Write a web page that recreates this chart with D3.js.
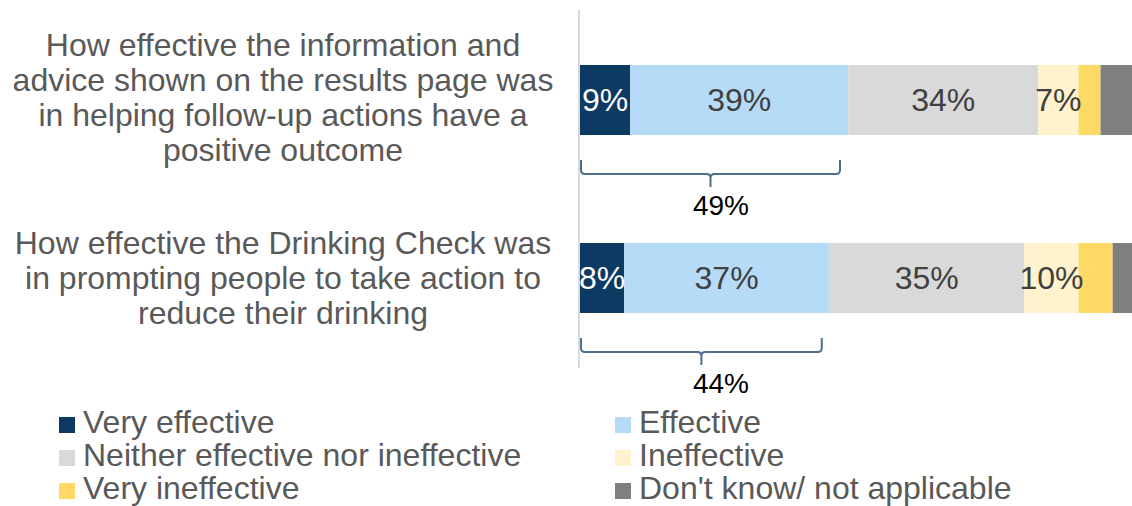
<!DOCTYPE html>
<html>
<head>
<meta charset="utf-8">
<script src="https://cdn.jsdelivr.net/npm/d3@7"></script>
<style>
  html, body { margin: 0; padding: 0; background: #fff; }
  svg { display: block; }
  text { font-family: Arial, "Liberation Sans", sans-serif; }
</style>
</head>
<body>
<svg id="chart" width="1132" height="506"></svg>
<script>
// ---- data ----
const questions = [
  "How effective the information and advice shown on the results page was in helping follow-up actions have a positive outcome",
  "How effective the Drinking Check was in prompting people to take action to reduce their drinking"
];
const questionLines = [
  ["How effective the information and", "advice shown on the results page was", "in helping follow-up actions have a", "positive outcome"],
  ["How effective the Drinking Check was", "in prompting people to take action to", "reduce their drinking"]
];
const categories = ["Very effective", "Effective", "Neither effective nor ineffective", "Ineffective", "Very ineffective", "Don't know/ not applicable"];
const colors = ["#0c3a63", "#b6dbf6", "#d9d9d9", "#fff2cc", "#ffd966", "#7f7f7f"];
const veryEffective = [9.1, 8.0];
const effective = [39.5, 37.1];
const neither = [34.4, 35.4];
const ineffective = [7.3, 9.8];
const veryIneffective = [4.0, 6.2];
const dontKnow = [5.7, 3.5];
const valueLabels = [
  ["9%", "39%", "34%", "7%", "", ""],
  ["8%", "37%", "35%", "10%", "", ""]
];
const bracketSpan = [47.1, 43.8];
const bracketLabels = ["49%", "44%"];

// ---- build ----
const series = [veryEffective, effective, neither, ineffective, veryIneffective, dontKnow];
const rows = questions.map((q, i) => {
  const r = { q };
  categories.forEach((c, j) => r[c] = series[j][i]);
  return r;
});
const stacked = d3.stack().keys(categories)(rows);

const svg = d3.select("#chart");
const x = d3.scaleLinear().domain([0, 100]).range([580, 1132]);
const y = d3.scalePoint().domain(questions).range([100, 278]);
const barH = 70;
const color = d3.scaleOrdinal().domain(categories).range(colors);

// axis line
svg.append("line")
  .attr("x1", x(0) - 1).attr("x2", x(0) - 1)
  .attr("y1", 10).attr("y2", 368)
  .attr("stroke", "#d9d9d9").attr("stroke-width", 2);

// bars
const layers = svg.append("g").selectAll("g").data(stacked).join("g")
  .attr("fill", d => color(d.key));
layers.selectAll("rect").data(d => d).join("rect")
  .attr("x", d => x(d[0]))
  .attr("width", d => x(d[1]) - x(d[0]))
  .attr("y", d => y(d.data.q) - barH / 2)
  .attr("height", barH);

// value labels
stacked.forEach((layer, j) => {
  svg.append("g").selectAll("text").data(layer).join("text")
    .attr("x", d => (x(d[0]) + x(d[1])) / 2)
    .attr("y", d => y(d.data.q) + 11)
    .attr("text-anchor", "middle")
    .attr("font-size", 32)
    .attr("fill", j === 0 ? "#ffffff" : "#404040")
    .text((d, i) => valueLabels[i][j]);
});

// question labels
questions.forEach((q, i) => {
  const lines = questionLines[i];
  const lh = 35;
  const firstBase = y(q) + 11 - (lines.length - 1) * lh / 2 - (i === 0 ? 3 : 0);
  const t = svg.append("text")
    .attr("text-anchor", "middle")
    .attr("font-size", 32)
    .attr("fill", "#595959");
  lines.forEach((ln, k) => {
    t.append("tspan").attr("x", 283).attr("y", firstBase + k * lh).text(ln);
  });
});

// brackets
questions.forEach((q, i) => {
  const x0 = x(0) + 1, x1 = x(bracketSpan[i]);
  const xm = (x0 + x1) / 2;
  const top = y(q) + barH / 2 + 25;
  const mid = top + 14;
  const bot = mid + 13;
  const r = 4;
  const path = `M${x0},${top} L${x0},${mid - r} Q${x0},${mid} ${x0 + r},${mid} L${xm - r},${mid} Q${xm},${mid} ${xm},${mid + r} L${xm},${bot} M${xm},${mid + r} Q${xm},${mid} ${xm + r},${mid} L${x1 - r},${mid} Q${x1},${mid} ${x1},${mid - r} L${x1},${top}`;
  svg.append("path").attr("d", path)
    .attr("fill", "none").attr("stroke", "#4d6f8f").attr("stroke-width", 2);
  svg.append("text")
    .attr("x", 721).attr("y", bot + 28)
    .attr("text-anchor", "middle")
    .attr("font-size", 28)
    .attr("fill", "#000")
    .text(bracketLabels[i]);
});

// legend
const legPos = [[59, 425], [615, 425], [59, 458], [615, 458], [59, 491], [615, 491]];
const leg = svg.append("g").selectAll("g").data(categories).join("g")
  .attr("transform", (d, i) => `translate(${legPos[i][0]},${legPos[i][1]})`);
leg.append("rect").attr("x", 0).attr("y", -8).attr("width", 16).attr("height", 16)
  .attr("fill", d => color(d));
leg.append("text").attr("x", 24).attr("y", 8)
  .attr("font-size", 32).attr("fill", "#595959")
  .text(d => d);
</script>
</body>
</html>
